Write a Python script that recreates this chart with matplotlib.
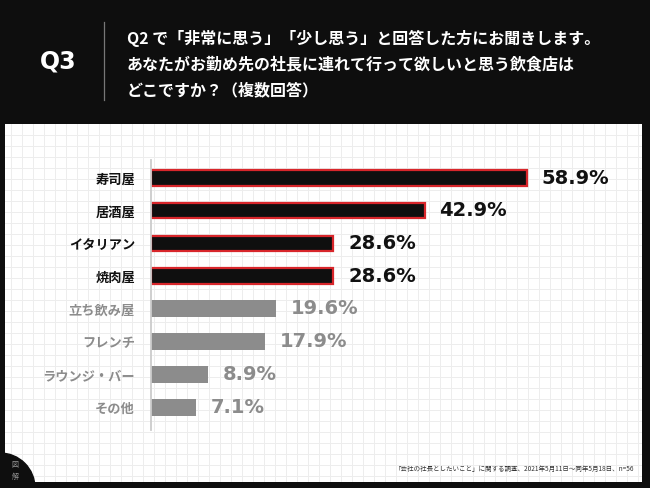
#!/usr/bin/env python

import numpy as np
import matplotlib.pyplot as plt
from matplotlib.patches import Ellipse

W, H = 650, 488

categories = ['寿司屋', '居酒屋', 'イタリアン', '焼肉屋',
              '立ち飲み屋', 'フレンチ', 'ラウンジ・バー', 'その他']
values = [58.9, 42.9, 28.6, 28.6, 19.6, 17.9, 8.9, 7.1]
highlight = [True, True, True, True, False, False, False, False]

question = 'Q3'
title_lines = ['Q2 で「非常に思う」「少し思う」と回答した方にお聞きします。',
               'あなたがお勤め先の社長に連れて行って欲しいと思う飲食店は',
               'どこですか？（複数回答）']
footnote = '「会社の社長としたいこと」に関する調査、2021年5月11日～同年5月18日、n=56'

JP = ['Noto Sans CJK JP', 'DejaVu Sans']
BG = '#0e0e0e'
RED = '#d8262b'
GRAY = '#8c8c8c'


def fx(px):
    return px / W


def fy(py):
    return 1 - py / H


def main() -> None:
    plt.rcParams['font.family'] = JP
    fig = plt.figure(figsize=(W / 100, H / 100), dpi=100, facecolor=BG)

    # white grid panel
    x0, x1, y0, y1 = 5, 642, 124, 482
    panel = fig.add_axes([fx(x0), fy(y1), fx(x1 - x0), (y1 - y0) / H])
    panel.set_facecolor('white')
    panel.set_xlim(0, x1 - x0)
    panel.set_ylim(y1 - y0, 0)
    panel.set_xticks(np.arange(6, x1 - x0, 11))
    panel.set_yticks(np.arange(11, y1 - y0, 11))
    panel.grid(color='#ededed', lw=0.7)
    panel.tick_params(length=0, labelbottom=False, labelleft=False)
    for s in panel.spines.values():
        s.set_visible(False)

    # header
    fig.text(fx(58), fy(62), question, color='white', fontsize=17,
             fontweight='bold', family='DejaVu Sans', ha='center', va='center')
    fig.add_artist(plt.Line2D([fx(104), fx(104)], [fy(22), fy(100)],
                              color='#777777', lw=0.9))
    for i, line in enumerate(title_lines):
        fig.text(fx(127), fy(38 + 26 * i), line, color='white', fontsize=11.5,
                 fontweight='bold', ha='left', va='center')

    # chart
    ppu = 6.38
    ax = fig.add_axes([fx(151), fy(430), fx(70 * ppu), 270 / H])
    ax.patch.set_alpha(0)
    y = np.arange(len(categories))
    for yi, v, hl in zip(y, values, highlight):
        if hl:
            ax.barh(yi, v, height=0.47, color='#0f0f0f', edgecolor=RED, lw=1.6)
        else:
            ax.barh(yi, v, height=0.52, color=GRAY, lw=0)
        ax.annotate(f'{v:.1f}%', (v, yi), xytext=(10.5, 0), textcoords='offset points',
                    va='center', ha='left', fontsize=14, fontweight='bold',
                    family='DejaVu Sans', color='#111111' if hl else GRAY,
                    annotation_clip=False)
    ax.set_xlim(0, 70)
    ax.set_ylim(7.70, -0.55)
    ax.set_xticks([])
    ax.set_yticks(y)
    ax.set_yticklabels(categories, fontsize=9.5, fontweight='bold')
    for lab, hl in zip(ax.get_yticklabels(), highlight):
        lab.set_color('#111111' if hl else GRAY)
    ax.tick_params(axis='y', length=0, pad=11.5)
    for k in ['top', 'right', 'bottom']:
        ax.spines[k].set_visible(False)
    ax.spines['left'].set_color('#cccccc')
    ax.spines['left'].set_linewidth(1.3)

    # footnote
    fig.text(fx(634), fy(469), footnote, fontsize=4.7, color='#333333',
             ha='right', va='center')

    # corner badge
    fig.add_artist(Ellipse((0, 0), 2 * 35 / W, 2 * 35 / H,
                           transform=fig.transFigure, color=BG))
    fig.text(fx(15), fy(465), '図', fontsize=5, color='#999999', ha='center', va='center')
    fig.text(fx(15), fy(477), '解', fontsize=5, color='#999999', ha='center', va='center')

    fig.savefig('out.png', dpi=100, facecolor=BG)


if __name__ == '__main__':
    main()
